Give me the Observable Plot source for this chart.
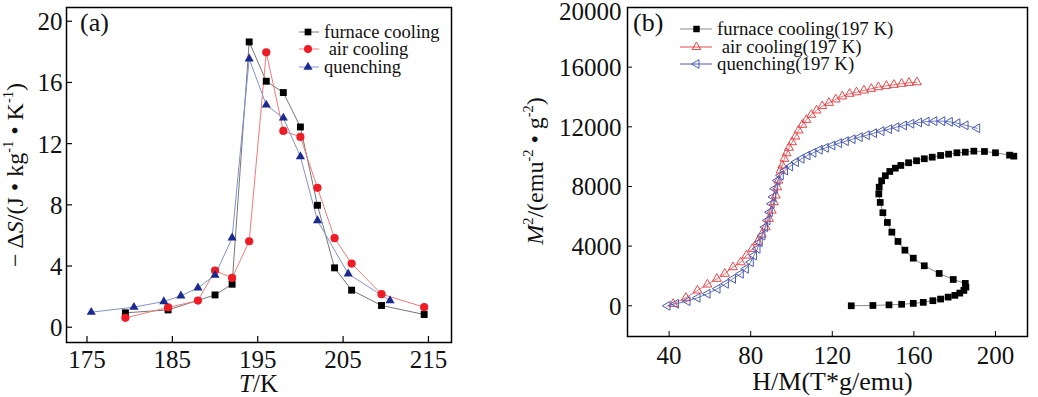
<!DOCTYPE html>
<html><head><meta charset="utf-8">
<script src="https://cdn.jsdelivr.net/npm/d3@7"></script>
<script src="https://cdn.jsdelivr.net/npm/@observablehq/plot@0.6"></script>
<style>
body{margin:0;background:#fff;}
#wrap{display:flex;width:1038px;height:397px;overflow:hidden;}
svg{font-family:"Liberation Serif","Times New Roman",serif;}
</style></head><body><div id="wrap"></div>
<script>
// ---------- Panel (a) data ----------
const tempFurnace = [179.5,184.5,190,192,194,196,198,200,202,204,206,209.5,214.5];
const dsFurnace   = [0.94,1.13,2.11,2.81,18.65,16.08,15.34,13.09,7.97,3.88,2.42,1.42,0.83];
const tempAir     = [179.5,184.5,188,190,192,194,196,198,200,202,204,206,209.5,214.5];
const dsAir       = [0.61,1.29,1.74,3.70,3.22,5.62,17.97,12.83,12.44,9.11,5.82,4.16,2.16,1.31];
const tempQuench  = [175.5,180.5,184,186,188,190,192,194,196,198,200,202,205.6,210.5];
const dsQuench    = [0.98,1.31,1.68,2.05,2.57,3.40,5.84,17.54,14.53,13.68,11.15,6.97,3.49,1.74];
const xTicksA = [175,185,195,205,215];
const yTicksA = [0,4,8,12,16,20];
const legendA = ["furnace cooling"," air cooling","quenching"];

// ---------- Panel (b) data ----------
const hmFurnace = [129.3,139.9,147.8,154.0,159.7,164.6,169.3,173.1,176.8,180.1,182.5,184.5,185.5,185.2,179.3,172.4,165.1,159.7,155.6,152.2,149.2,147.0,144.8,143.5,142.8,143.0,144.2,146.0,148.2,150.9,153.6,157.4,161.3,165.1,169.0,173.1,177.0,181.1,185.2,189.4,194.6,200.0,206.9,209.0];
const m2Furnace = [0,20,60,100,160,230,340,450,580,700,850,1030,1250,1500,1764,2166,2682,3192,3729,4312,4936,5586,6240,6930,7500,7950,8380,8720,9006,9227,9409,9590,9724,9858,9965,10079,10166,10260,10300,10367,10347,10260,10100,10032];
const hmAir = [42.0,48.2,53.9,58.8,63.4,67.3,71.3,75.1,77.9,80.8,83.3,85.4,87.4,89.0,90.3,91.4,92.3,93.0,93.6,94.6,95.5,96.5,97.6,98.8,100.3,101.9,103.5,105.3,107.3,109.7,112.3,115.1,118.4,121.7,124.9,128.5,131.9,135.5,139.1,142.6,146.5,150.2,154.0,157.6,161.5];
const m2Air = [130,540,1030,1430,1810,2150,2590,2920,3370,3820,4270,4780,5270,5830,6390,6950,7400,7950,8400,9070,9410,9860,10230,10600,10970,11350,11760,12140,12470,12810,13100,13390,13610,13840,14040,14220,14320,14440,14550,14660,14750,14820,14890,14950,14990];
const hmQuench = [39.2,43.3,49.0,53.9,58.8,63.7,67.8,71.3,75.1,77.6,80.0,81.6,83.3,84.4,85.7,87.0,88.2,89.3,90.2,91.0,91.8,93.1,94.7,96.8,99.3,102.1,104.9,107.8,110.7,113.8,116.8,120.0,123.3,126.6,129.9,133.4,136.9,140.4,144.1,147.8,151.4,155.1,158.7,162.5,166.2,170.0,173.9,177.6,181.3,185.3,191.0];
const m2Quench = [0,134,308,536,805,1140,1475,1811,2146,2481,2924,3373,3822,4265,4714,5271,5720,6277,6840,7300,7846,8403,8738,9073,9342,9630,9858,10079,10260,10461,10595,10750,10904,11038,11172,11306,11440,11575,11709,11843,11977,12091,12205,12290,12350,12380,12380,12330,12240,12100,11900];
const xTicksB = [40,80,120,160,200];
const yTicksB = [0,4000,8000,12000,16000];
const yTopTickB = [20000];
const legendB = ["furnace cooling(197 K)"," air cooling(197 K)","quenching(197 K)"];

// left-pointing triangle symbol
const symbolTriLeft = {
  draw(context, size) {
    const s3 = Math.sqrt(3);
    const y = -Math.sqrt(size / (s3 * 3));
    context.moveTo(y * 2, 0);
    context.lineTo(-y, s3 * y);
    context.lineTo(-y, -s3 * y);
    context.closePath();
  }
};

const zip = (xs, ys) => xs.map((x, i) => ({x, y: ys[i]}));
const H = 397;
const wrap = document.getElementById("wrap");

// ---------- Panel (a) ----------
const WA = 520, mA = {t: 7, r: 69, b: 55, l: 66};
const ihA = H - mA.t - mA.b, iwA = WA - mA.l - mA.r;
const A1 = zip(tempFurnace, dsFurnace), A2 = zip(tempAir, dsAir), A3 = zip(tempQuench, dsQuench);
const colA = {f: "#000", a: "#ee1c25", q: "#1b2a8e"};
const lineColA = {f: "#777", a: "#f07a7a", q: "#8391cc"};

const plotA = Plot.plot({
  width: WA, height: H,
  marginTop: mA.t, marginRight: mA.r, marginBottom: mA.b, marginLeft: mA.l,
  style: {fontFamily: "Liberation Serif, serif", fontSize: "25px", background: "white", color: "#111"},
  x: {domain: [172.6, 217.7]},
  y: {domain: [-1, 20.9]},
  marks: [
    Plot.axisX(xTicksA, {tickSize: 0, tickPadding: 8, label: null}),
    Plot.axisY(yTicksA, {tickSize: 0, tickPadding: 4, label: null, dy: 1}),
    Plot.tickX(xTicksA, {x: d => d, insetTop: ihA - 6, stroke: "#000", strokeWidth: 1.2}),
    Plot.tickY(yTicksA, {y: d => d, insetRight: iwA - 6, stroke: "#000", strokeWidth: 1.2}),
    Plot.line(A1, {x: "x", y: "y", stroke: lineColA.f, strokeWidth: 1}),
    Plot.line(A2, {x: "x", y: "y", stroke: lineColA.a, strokeWidth: 1}),
    Plot.line(A3, {x: "x", y: "y", stroke: lineColA.q, strokeWidth: 1}),
    Plot.dot(A1, {x: "x", y: "y", symbol: "square", r: 3.9, fill: colA.f}),
    Plot.dot(A2, {x: "x", y: "y", symbol: "circle", r: 4.1, fill: colA.a}),
    Plot.dot(A3, {x: "x", y: "y", symbol: "triangle", r: 3.4, fill: colA.q}),
    Plot.frame({stroke: "#000", strokeWidth: 1.5})
  ]
});
wrap.appendChild(plotA);

// ---------- Panel (b) ----------
const WB = 518, mB = {t: 7, r: 11, b: 61, l: 107};
const ihB = H - mB.t - mB.b, iwB = WB - mB.l - mB.r;
const B1 = zip(hmFurnace, m2Furnace), B2 = zip(hmAir, m2Air), B3 = zip(hmQuench, m2Quench);
const colB = {f: "#000", a: "#e5484a", q: "#4a5cb4"};

const plotB = Plot.plot({
  width: WB, height: H,
  marginTop: mB.t, marginRight: mB.r, marginBottom: mB.b, marginLeft: mB.l,
  style: {fontFamily: "Liberation Serif, serif", fontSize: "25px", background: "white", color: "#111"},
  x: {domain: [19.6, 215.7]},
  y: {domain: [-2060, 20000]},
  marks: [
    Plot.axisX(xTicksB, {tickSize: 0, tickPadding: 10, label: null}),
    Plot.axisY(yTicksB, {tickSize: 0, tickPadding: 6, label: null, dy: 1, tickFormat: d => String(d)}),
    Plot.axisY(yTopTickB, {tickSize: 0, tickPadding: 6, label: null, dy: 4, tickFormat: d => String(d)}),
    Plot.tickX(xTicksB, {x: d => d, insetTop: ihB - 5, stroke: "#000", strokeWidth: 1}),
    Plot.tickY(yTicksB.concat(yTopTickB), {y: d => d, insetRight: iwB - 5, stroke: "#000", strokeWidth: 1}),
    Plot.line(B1, {x: "x", y: "y", stroke: "#888", strokeWidth: 1}),
    Plot.line(B2, {x: "x", y: "y", stroke: colB.a, strokeWidth: 0.8}),
    Plot.line(B3, {x: "x", y: "y", stroke: colB.q, strokeWidth: 0.8}),
    Plot.dot(B2, {x: "x", y: "y", symbol: "triangle", r: 3.3, stroke: colB.a, strokeWidth: 1, fill: "none"}),
    Plot.dot(B3, {x: "x", y: "y", symbol: symbolTriLeft, r: 3.3, stroke: colB.q, strokeWidth: 1, fill: "none"}),
    Plot.dot(B1, {x: "x", y: "y", symbol: "square", r: 3.8, fill: colB.f}),
    Plot.frame({stroke: "#000", strokeWidth: 1.5})
  ]
});
wrap.appendChild(plotB);

// ---------- Titles, panel labels, legends ----------
function addTitles(svg, cfg) {
  const s = d3.select(svg);
  const xt = s.append("text").attr("x", cfg.xTitle[0]).attr("y", cfg.xTitle[1])
    .attr("text-anchor", "middle").attr("font-size", cfg.xTitleSize).attr("fill", "#111");
  cfg.xTitleParts.forEach(p => {
    const t = xt.append("tspan").text(p.t);
    if (p.i) t.attr("font-style", "italic");
  });
  const yt = s.append("text").attr("transform", `translate(${cfg.yTitle[0]},${cfg.yTitle[1]}) rotate(-90)`)
    .attr("text-anchor", "middle").attr("font-size", cfg.yTitleSize).attr("fill", "#111")
    .style("white-space", "pre");
  cfg.yTitleParts.forEach(p => {
    const t = yt.append("tspan").text(p.t);
    if (p.i) t.attr("font-style", "italic");
    if (p.sup) t.attr("font-size", cfg.yTitleSize * 0.6).attr("dy", -cfg.yTitleSize * 0.4);
    if (p.down) t.attr("dy", cfg.yTitleSize * 0.4);
  });
  s.append("text").attr("x", cfg.panel[0]).attr("y", cfg.panel[1]).attr("font-size", 26)
    .attr("text-anchor", "start").attr("fill", "#111").text(cfg.panelText);
  cfg.legend.forEach((L, i) => {
    const y = cfg.legY[i];
    s.append("line").attr("x1", cfg.legX[0]).attr("x2", cfg.legX[1]).attr("y1", y).attr("y2", y)
      .attr("stroke", L.line).attr("stroke-width", 1);
    s.append("path").attr("transform", `translate(${cfg.legX[2]},${y})`)
      .attr("d", d3.symbol(L.sym, L.size)())
      .attr("fill", L.fill).attr("stroke", L.stroke || "none").attr("stroke-width", 1);
    s.append("text").attr("x", cfg.legX[3]).attr("y", y).attr("dy", "0.33em")
      .attr("text-anchor", "start")
      .attr("font-size", cfg.legSize).attr("fill", "#111")
      .style("white-space", "pre").text(L.label);
  });
}

addTitles(plotA, {
  xTitle: [258.5, 392], xTitleSize: 25, xTitleParts: [{t: "T", i: true}, {t: "/K"}],
  yTitle: [23, 175], yTitleSize: 24,
  yTitleParts: [{t: "− Δ"}, {t: "S", i: true}, {t: "/(J • kg"}, {t: "-1", sup: true}, {t: " • K", down: true}, {t: "-1", sup: true}, {t: ")", down: true}],
  panel: [80, 31], panelText: "(a)",
  legX: [299, 319, 308, 324], legY: [32, 49, 67], legSize: 18.5,
  legend: [
    {label: legendA[0], line: lineColA.f, sym: d3.symbolSquare, size: 45, fill: colA.f},
    {label: legendA[1], line: lineColA.a, sym: d3.symbolCircle, size: 50, fill: colA.a},
    {label: legendA[2], line: lineColA.q, sym: d3.symbolTriangle, size: 36, fill: colA.q}
  ]
});

addTitles(plotB, {
  xTitle: [312.5, 390], xTitleSize: 26, xTitleParts: [{t: "H/M(T*g/emu)"}],
  yTitle: [23, 171], yTitleSize: 24,
  yTitleParts: [{t: "M", i: true}, {t: "2", sup: true}, {t: "/(emu", down: true}, {t: "-2", sup: true}, {t: " • g", down: true}, {t: "-2", sup: true}, {t: ")", down: true}],
  panel: [113, 31], panelText: "(b)",
  legX: [160, 192, 176.5, 197], legY: [29, 47, 64], legSize: 18.8,
  legend: [
    {label: legendB[0], line: "#888", sym: d3.symbolSquare, size: 42, fill: colB.f},
    {label: legendB[1], line: colB.a, sym: d3.symbolTriangle, size: 32, fill: "none", stroke: colB.a},
    {label: legendB[2], line: colB.q, sym: symbolTriLeft, size: 32, fill: "none", stroke: colB.q}
  ]
});
</script></body></html>
